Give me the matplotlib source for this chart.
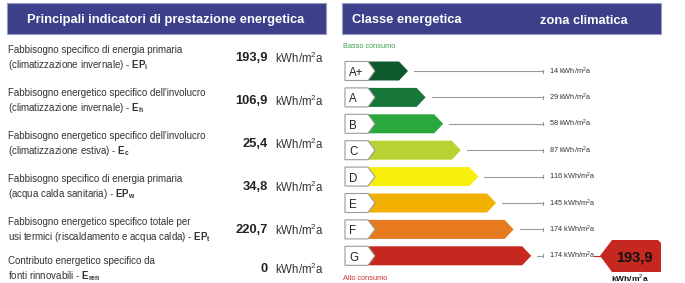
import matplotlib
matplotlib.use("Agg")
import matplotlib.pyplot as plt
from matplotlib.patches import Polygon, Rectangle

# -------------------------------
# Data
# -------------------------------
indicator_lines1 = [
    "Fabbisogno specifico di energia primaria",
    "Fabbisogno energetico specifico dell'involucro",
    "Fabbisogno energetico specifico dell'involucro",
    "Fabbisogno specifico di energia primaria",
    "Fabbisogno energetico specifico totale per",
    "Contributo energetico specifico da",
]
indicator_lines2 = [
    r"(climatizzazione invernale) - $\mathbf{EP_i}$",
    r"(climatizzazione invernale) - $\mathbf{E_h}$",
    r"(climatizzazione estiva) - $\mathbf{E_c}$",
    r"(acqua calda sanitaria) - $\mathbf{EP_w}$",
    r"usi termici (riscaldamento e acqua calda) - $\mathbf{EP_t}$",
    r"fonti rinnovabili - $\mathbf{E_{ren}}$",
]
indicator_values = ["193,9", "106,9", "25,4", "34,8", "220,7", "0"]

classes = ["A+", "A", "B", "C", "D", "E", "F", "G"]
class_colors = ["#0c5a2b", "#17773a", "#2aa83e", "#b7d331", "#f9ef0c",
                "#f2b000", "#e77a1e", "#c6281f"]
thresholds = ["14", "29", "58", "87", "116", "145", "174", "174"]
current_value = "193,9"
current_class = "G"

unit = r"kWh/m$^2$a"
header_blue = "#3c3f8a"

# -------------------------------
# Canvas in pixel coordinates
# -------------------------------
plt.rcParams["font.family"] = ["Liberation Sans", "DejaVu Sans"]
plt.rcParams["mathtext.fontset"] = "custom"
plt.rcParams["mathtext.rm"] = "Liberation Sans"
plt.rcParams["mathtext.bf"] = "Liberation Sans:bold"
fig = plt.figure(figsize=(6.85, 2.83), dpi=100)
ax = fig.add_axes([0, 0, 1, 1])
ax.set_xlim(0, 685)
ax.set_ylim(283, 0)
ax.axis("off")

# headers
ax.add_patch(Rectangle((7, 3), 319, 31, facecolor=header_blue, edgecolor="#9a9cc0", lw=0.8))
ax.text(166, 19, "Principali indicatori di prestazione energetica", color="white",
        fontsize=9.3, fontweight="bold", ha="center", va="center_baseline")
ax.add_patch(Rectangle((342, 3), 319, 31, facecolor=header_blue, edgecolor="#9a9cc0", lw=0.8))
ax.text(352, 19, "Classe energetica", color="white", fontsize=9.3,
        fontweight="bold", ha="left", va="center_baseline")
ax.text(540, 19, "zona climatica", color="white", fontsize=9.3,
        fontweight="bold", ha="left", va="center_baseline")

# left indicators
row_y = [58, 101, 144, 187, 230, 269]
for y, l1, l2, v in zip(row_y, indicator_lines1, indicator_lines2, indicator_values):
    ax.text(8, y - 8, l1, fontsize=7.0, ha="left", va="center", color="#333333")
    ax.text(8, y + 7, l2, fontsize=7.0, ha="left", va="center", color="#333333")
    ax.text(268, y, v, fontsize=9.3, fontweight="bold", ha="right", va="center",
            color="#222222")
    ax.text(275, y, unit, fontsize=8.3, ha="left", va="center", color="#333333")

# energy class scale
ax.text(343, 47, "Basso consumo", fontsize=5.3, color="#3aa04a", ha="left", va="center")
ax.text(343, 278, "Alto consumo", fontsize=5.3, color="#d03030", ha="left", va="center")

y0, step, h = 71, 26.4, 19
tip0, tip_step = 408, 17.6
for i, (c, col, th) in enumerate(zip(classes, class_colors, thresholds)):
    yc = y0 + i * step
    tip = tip0 + i * tip_step
    # colored arrow
    ax.add_patch(Polygon([(368, yc - h / 2), (tip - 9, yc - h / 2), (tip, yc),
                          (tip - 9, yc + h / 2), (368, yc + h / 2)],
                         closed=True, facecolor=col, edgecolor="none"))
    # white label
    ax.add_patch(Polygon([(345, yc - h / 2), (368, yc - h / 2), (375, yc),
                          (368, yc + h / 2), (345, yc + h / 2)],
                         closed=True, facecolor="white", edgecolor="#999999", lw=0.8))
    ax.text(349, yc + 0.5, c, fontsize=8.3, ha="left", va="center_baseline", color="#222222")
    # leader line and threshold
    ax.plot([tip + 6, 543], [yc, yc], color="#9a9a9a", lw=0.8)
    ax.plot([543, 543], [yc - 1.5, yc + 1.5], color="#9a9a9a", lw=0.8)
    ax.text(549, yc, th + " " + unit, fontsize=5.3, ha="left", va="center", color="#333333")

# current value marker
gi = classes.index(current_class)
yc = y0 + gi * step
ax.add_patch(Polygon([(600, yc), (612, 240), (658, 240), (661, 243), (661, 272), (612, 272)],
                     closed=True, facecolor="#c6281f", edgecolor="none"))
ax.plot([594, 600], [yc, yc], color="#c6281f", lw=0.8)
ax.text(634, yc + 0.5, current_value, fontsize=10.5, fontweight="bold", ha="center",
        va="center_baseline", color="#111111")
ax.text(630, 278.5, unit, fontsize=6, fontweight="bold", ha="center", va="center", color="#111111")

fig.savefig("out.png", dpi=100)
